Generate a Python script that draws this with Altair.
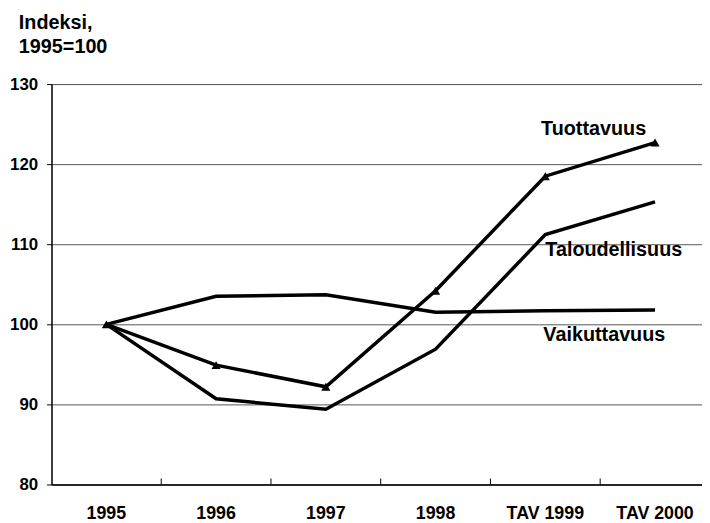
import altair as alt
import pandas as pd

years = ["1995", "1996", "1997", "1998", "TAV 1999", "TAV 2000"]
tuottavuus = [100.0, 94.9, 92.2, 104.2, 118.5, 122.7]
taloudellisuus = [100.0, 90.7, 89.4, 96.9, 111.2, 115.3]
vaikuttavuus = [100.0, 103.5, 103.7, 101.5, 101.7, 101.8]

rows = []
for name, vals in [("Tuottavuus", tuottavuus), ("Taloudellisuus", taloudellisuus), ("Vaikuttavuus", vaikuttavuus)]:
    for y, v in zip(years, vals):
        rows.append({"vuosi": y, "indeksi": v, "sarja": name})
df = pd.DataFrame(rows)

FONT = "Liberation Sans"

x_scale = alt.Scale(domain=years, range=[0, 666], paddingInner=0, paddingOuter=0)
y_scale = alt.Scale(domain=[80, 130], nice=False, zero=False)

x_enc = alt.X("vuosi:N", scale=x_scale, sort=years, title=None,
              axis=alt.Axis(ticks=False, labelAngle=0, labelFont=FONT, labelFontSize=18,
                            labelFontWeight="bold", labelColor="black", labelPadding=20,
                            domainColor="black", domainWidth=1.5, grid=False))
y_enc = alt.Y("indeksi:Q", scale=y_scale, title=None,
              axis=alt.Axis(values=[80, 90, 100, 110, 120, 130], labelFont=FONT, labelFontSize=17,
                            labelFontWeight="bold", labelColor="black", labelPadding=9,
                            tickSize=5, tickColor="black", domainColor="black", domainWidth=1.5,
                            grid=True, gridColor="#555555", gridWidth=1))

base = alt.Chart(df)

lines = base.mark_line(color="black", strokeWidth=3.5, strokeJoin="miter").encode(
    x=x_enc, y=y_enc, detail="sarja:N"
)

points = base.transform_filter(alt.datum.sarja == "Tuottavuus").mark_point(
    shape="triangle-up", filled=True, color="black", size=85, opacity=1
).encode(x=alt.X("vuosi:N", scale=x_scale, sort=years), y=alt.Y("indeksi:Q", scale=y_scale))

ticks_df = pd.DataFrame({"vuosi": years[1:]})
xticks = alt.Chart(ticks_df).mark_rule(color="black", strokeWidth=1).encode(
    x=alt.X("vuosi:N", scale=x_scale, sort=years, bandPosition=0),
    y=alt.value(399), y2=alt.value(405)
)

def label(text, cat, val, align, dx):
    return alt.Chart(pd.DataFrame({"t": [text]})).mark_text(
        font=FONT, fontSize=20, fontWeight="bold", color="black", align=align, baseline="middle", dx=dx
    ).encode(x=alt.X(datum=cat, scale=x_scale), y=alt.Y(datum=val, scale=y_scale), text="t:N")

lbl1 = label("Tuottavuus", "TAV 2000", 124.4, "right", -9)
lbl2 = label("Taloudellisuus", "TAV 1999", 109.3, "left", 0)
lbl3 = label("Vaikuttavuus", "TAV 1999", 98.7, "left", -2)

ytitle = alt.Chart(pd.DataFrame({"t": [["Indeksi,", "1995=100"]]})).mark_text(
    font=FONT, fontSize=20, fontWeight="bold", color="black", align="left", baseline="top",
    lineHeight=25, dx=-33, dy=-72
).encode(x=alt.value(0), y=alt.value(0), text="t")

chart = alt.layer(lines, xticks, points, lbl1, lbl2, lbl3, ytitle).properties(
    width=658, height=405,
    autosize=alt.AutoSizeParams(type="none"),
    padding={"left": 44, "top": 74, "right": 0, "bottom": 36},
).configure_view(stroke=None).configure(background="white")

chart.save("out.html", embed_options={"renderer": "svg", "actions": False})
